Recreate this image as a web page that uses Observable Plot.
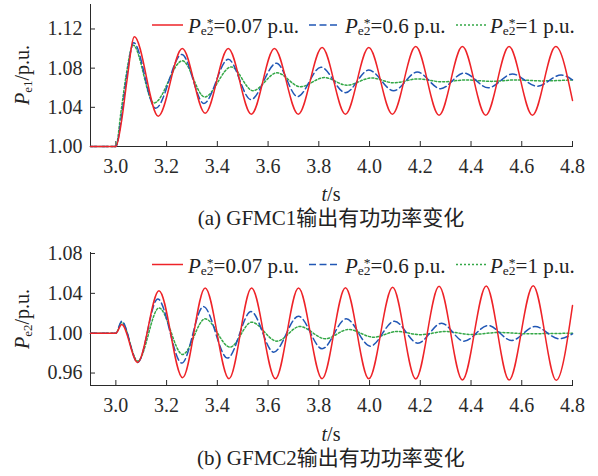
<!DOCTYPE html>
<html><head><meta charset="utf-8">
<script src="https://cdn.jsdelivr.net/npm/d3@7"></script>
<script src="https://cdn.jsdelivr.net/npm/@observablehq/plot@0.6"></script>
<style>
html,body{margin:0;padding:0;background:#fff;}
#fig{position:relative;width:598px;height:476px;overflow:hidden;background:#fff;}
#fig > svg{position:absolute;left:0;}
</style></head><body><div id="fig"></div>
<script>
// ---- data ----
const xTicks = [3.0, 3.2, 3.4, 3.6, 3.8, 4.0, 4.2, 4.4, 4.6, 4.8];
const yTicksA = [1.00, 1.04, 1.08, 1.12];
const yTicksB = [0.96, 1.00, 1.04, 1.08];
const seriesNames = ["0.07", "0.6", "1"];
const captionA = "(a) GFMC1输出有功功率变化";
const captionB = "(b) GFMC2输出有功功率变化";

// Panel (a): P_e1
const tA_007 = [2.9, 3.0, 3.023, 3.043, 3.073, 3.167, 3.262, 3.352, 3.443, 3.534, 3.625, 3.719, 3.813, 3.905, 3.997, 4.09, 4.182, 4.274, 4.366, 4.458, 4.55, 4.642, 4.734, 4.8];
const vA_007 = [1.0, 1.0, 1.027, 1.066, 1.112, 1.031, 1.100, 1.034, 1.100, 1.033, 1.100, 1.033, 1.101, 1.033, 1.101, 1.033, 1.102, 1.032, 1.102, 1.032, 1.102, 1.032, 1.102, 1.047];
const tA_06 = [2.9, 3.0, 3.022, 3.042, 3.07, 3.157, 3.26, 3.347, 3.443, 3.532, 3.633, 3.716, 3.808, 3.905, 3.997, 4.095, 4.188, 4.28, 4.372, 4.468, 4.563, 4.661, 4.755, 4.8];
const vA_06 = [1.0, 1.0, 1.03, 1.07, 1.106, 1.039, 1.094, 1.044, 1.089, 1.048, 1.085, 1.051, 1.081, 1.055, 1.078, 1.057, 1.076, 1.059, 1.075, 1.060, 1.074, 1.0615, 1.073, 1.068];
const tA_1 = [2.9, 3.0, 3.02, 3.04, 3.068, 3.15, 3.262, 3.35, 3.455, 3.54, 3.635, 3.727, 3.822, 3.911, 4.008, 4.095, 4.19, 4.29, 4.38, 4.48, 4.58, 4.68, 4.8];
const vA_1 = [1.0, 1.0, 1.035, 1.072, 1.1035, 1.0444, 1.0875, 1.0506, 1.0813, 1.057, 1.0752, 1.061, 1.0704, 1.0626, 1.0700, 1.065, 1.069, 1.066, 1.068, 1.0665, 1.068, 1.067, 1.068];

// Panel (b): P_e2
const tB_007 = [2.9, 3.0, 3.023, 3.086, 3.17, 3.263, 3.352, 3.446, 3.535, 3.629, 3.72, 3.813, 3.905, 3.997, 4.091, 4.182, 4.274, 4.366, 4.46, 4.55, 4.645, 4.736, 4.8];
const vB_007 = [1.0, 1.0, 1.0087, 0.9707, 1.0427, 0.9554, 1.0454, 0.9544, 1.0454, 0.9544, 1.0454, 0.9544, 1.0457, 0.9542, 1.046, 0.954, 1.047, 0.953, 1.0475, 0.953, 1.0477, 0.9527, 1.0277];
const tB_06 = [2.9, 3.0, 3.023, 3.086, 3.165, 3.26, 3.345, 3.44, 3.533, 3.622, 3.72, 3.813, 3.908, 4.003, 4.098, 4.19, 4.284, 4.372, 4.468, 4.56, 4.652, 4.747, 4.8];
const vB_06 = [1.0, 1.0, 1.012, 0.9707, 1.0344, 0.970, 1.0267, 0.975, 1.0217, 0.981, 1.017, 0.9844, 1.0144, 0.987, 1.012, 0.990, 1.010, 0.992, 1.0077, 0.9927, 1.0067, 0.9944, 0.9993];
const tB_1 = [2.9, 3.0, 3.023, 3.086, 3.17, 3.263, 3.352, 3.45, 3.535, 3.635, 3.725, 3.826, 3.917, 4.016, 4.108, 4.2, 4.3, 4.4, 4.51, 4.62, 4.8];
const vB_1 = [1.0, 1.0, 1.011, 0.972, 1.0254, 0.9787, 1.0144, 0.986, 1.011, 0.992, 1.0067, 0.9944, 1.0037, 0.996, 1.0017, 0.9985, 1.0017, 0.9987, 1.0007, 0.9995, 1.0];

// ---- styling ----
const FONT = "'Liberation Serif','Times New Roman',serif";
const CJKFONT = "'Liberation Serif','Times New Roman','Noto Sans CJK SC',serif";
const colors = {"0.07": "#ee2328", "0.6": "#2157b5", "1": "#34a847"};
const dashes = {"0.07": null, "0.6": "7,3.5", "1": "2,2"};

function rows(pairs) {
  const out = [];
  pairs.forEach(([s, ts, vs]) => ts.forEach((t, i) => out.push({s, t, v: vs[i]})));
  return out;
}
const dataA = rows([["1", tA_1, vA_1], ["0.6", tA_06, vA_06], ["0.07", tA_007, vA_007]]);
const dataB = rows([["1", tB_1, vB_1], ["0.6", tB_06, vB_06], ["0.07", tB_007, vB_007]]);

function panel(data, yDomain, yTicks, height) {
  return Plot.plot({
    width: 598, height, marginTop: 4, marginBottom: 30, marginLeft: 90, marginRight: 26,
    style: {fontFamily: FONT, fontSize: "20px", color: "#2a2a2a", background: "transparent", overflow: "visible"},
    x: {domain: [2.9, 4.8], ticks: xTicks, tickFormat: d3.format(".1f"), tickSize: -5, tickPadding: 17, line: true, label: null},
    y: {domain: yDomain, ticks: yTicks, tickFormat: d3.format(".2f"), tickSize: -5, tickPadding: 13, line: true, label: null},
    marks: ["1", "0.6", "0.07"].map(s => Plot.line(data.filter(d => d.s === s), {
      x: "t", y: "v", stroke: colors[s], strokeWidth: 1.5,
      strokeDasharray: dashes[s] || undefined, curve: "monotone-x"
    }))
  });
}

const fig = document.getElementById("fig");
const pA = panel(dataA, [1.0, 1.145], yTicksA, 176);
pA.style.top = "0px";
fig.appendChild(pA);
const pB = panel(dataB, [0.9475, 1.081], yTicksB, 167);
pB.style.top = "248px";
fig.appendChild(pB);

// ---- overlay texts: legends, axis titles, captions ----
const ov = d3.select(fig).append("svg")
  .attr("width", 598).attr("height", 476)
  .style("position", "absolute").style("top", "0px").style("left", "0px")
  .attr("font-family", FONT).attr("fill", "#222");

const legendItems = [
  {s: "0.07", x1: 152, x2: 183, tx: 188},
  {s: "0.6", x1: 309, x2: 337, tx: 345},
  {s: "1", x1: 456, x2: 486, tx: 490}
];
function legend(sy, by) {
  legendItems.forEach(it => {
    const l = ov.append("line").attr("x1", it.x1).attr("x2", it.x2).attr("y1", sy).attr("y2", sy)
      .attr("stroke", colors[it.s]).attr("stroke-width", 1.5);
    if (dashes[it.s]) l.attr("stroke-dasharray", dashes[it.s]);
    const t = ov.append("text").attr("x", it.tx).attr("y", by).attr("font-size", 21);
    t.append("tspan").attr("font-style", "italic").text("P");
    t.append("tspan").attr("font-size", 13.5).attr("dy", 2).text("e2");
    t.append("tspan").attr("font-size", 13.5).attr("dx", -6.75).attr("dy", -8.5).text("*");
    t.append("tspan").attr("dy", 6.5).text("=" + it.s + " p.u.");
  });
}
legend(25, 33.3);
legend(264.5, 273);

function ylabel(cx, cy, sub) {
  const t = ov.append("text").attr("transform", `translate(${cx},${cy}) rotate(-90)`)
    .attr("text-anchor", "middle").attr("font-size", 20);
  t.append("tspan").attr("font-style", "italic").text("P");
  t.append("tspan").attr("font-size", 13).attr("dy", 3).text(sub);
  t.append("tspan").attr("dy", -3).text("/p.u.");
}
ylabel(29, 75, "e1");
ylabel(29, 319, "e2");

function xlabel(by) {
  const t = ov.append("text").attr("x", 331).attr("y", by).attr("text-anchor", "middle").attr("font-size", 20);
  t.append("tspan").attr("font-style", "italic").text("t");
  t.append("tspan").text("/s");
}
xlabel(201);
xlabel(441);

function caption(by, txt) {
  ov.append("text").attr("x", 331).attr("y", by).attr("text-anchor", "middle")
    .attr("font-size", 21).attr("font-family", CJKFONT).text(txt);
}
caption(225, captionA);
caption(465, captionB);
</script>
</body></html>
